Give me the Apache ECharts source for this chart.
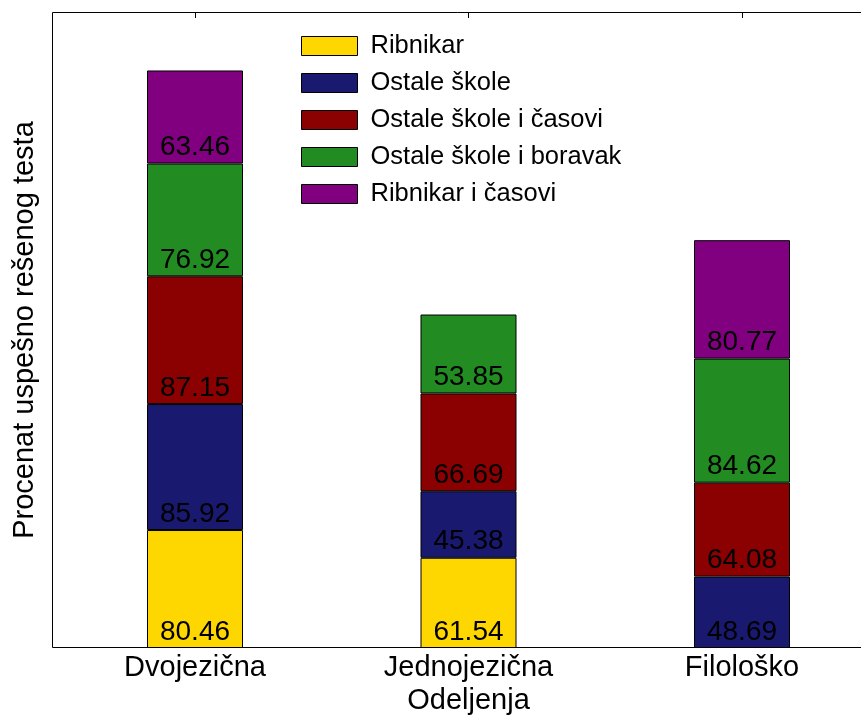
<!DOCTYPE html>
<html>
<head>
<meta charset="utf-8">
<script src="https://cdn.jsdelivr.net/npm/echarts@6/dist/echarts.min.js"></script>
<style>html,body{margin:0;padding:0;background:#fff}#c{width:861px;height:715px}</style>
</head>
<body>
<div id="c"></div>
<script>
const categories = ['Dvojezična', 'Jednojezična', 'Filološko'];
const seriesNames = ['Ribnikar', 'Ostale škole', 'Ostale škole i časovi', 'Ostale škole i boravak', 'Ribnikar i časovi'];
const ribnikar = [80.46, 61.54, null];
const ostaleSkole = [85.92, 45.38, 48.69];
const ostaleSkoleCasovi = [87.15, 66.69, 64.08];
const ostaleSkoleBoravak = [76.92, 53.85, 84.62];
const ribnikarCasovi = [63.46, null, 80.77];
const colors = ['#FFD700', '#191970', '#8B0000', '#228B22', '#800080'];
const values = [ribnikar, ostaleSkole, ostaleSkoleCasovi, ostaleSkoleBoravak, ribnikarCasovi];

const FONT = 'Liberation Sans, Arial, sans-serif';
const series = values.map((arr, si) => ({
  name: seriesNames[si],
  type: 'bar',
  stack: 'total',
  barWidth: 96,
  data: arr.map(v => v == null ? '-' : v),
  itemStyle: { color: colors[si], borderColor: '#000', borderWidth: 1 },
  label: {
    show: true,
    position: 'insideBottom',
    distance: 2,
    color: '#000',
    fontFamily: FONT,
    fontSize: 28,
    formatter: p => (typeof p.value === 'number') ? p.value.toFixed(2) : ''
  }
}));

const chart = echarts.init(document.getElementById('c'), null, { renderer: 'canvas' });
chart.setOption({
  animation: false,
  backgroundColor: '#fff',
  color: colors,
  grid: { left: 58.25, right: -17.75, top: 12, bottom: 67, containLabel: false, outerBoundsMode: 'none' },
  graphic: [{
    type: 'rect',
    shape: { x: 52.5, y: 12.5, width: 840, height: 635 },
    style: { fill: 'none', stroke: '#000', lineWidth: 1 },
    silent: true,
    z: 10
  }],
  legend: {
    orient: 'vertical',
    left: 296,
    top: 28,
    itemWidth: 56,
    itemHeight: 19,
    itemGap: 11,
    icon: 'rect',
    textStyle: { fontFamily: FONT, fontSize: 25.5, color: '#000', padding: [0, 0, 0, 8] },
    itemStyle: { borderColor: '#000', borderWidth: 1 },
    data: seriesNames
  },
  xAxis: [{
    type: 'category',
    data: categories,
    position: 'bottom',
    name: 'Odeljenja',
    nameLocation: 'middle',
    nameGap: 37,
    nameTextStyle: { fontFamily: FONT, fontSize: 29, color: '#000' },
    splitLine: { show: false },
    axisLine: { show: false },
    axisTick: { show: true, inside: true, length: 6, alignWithLabel: true, lineStyle: { color: '#000' } },
    axisLabel: { fontFamily: FONT, fontSize: 29, color: '#000', margin: 5 }
  }, {
    type: 'category',
    data: categories,
    position: 'top',
    splitLine: { show: false },
    axisLine: { show: false },
    axisTick: { show: true, inside: true, length: 6, alignWithLabel: true, lineStyle: { color: '#000' } },
    axisLabel: { show: false }
  }],
  yAxis: {
    type: 'value',
    min: 0,
    max: 433.8,
    name: 'Procenat uspešno rešenog testa',
    nameLocation: 'middle',
    nameGap: 19,
    nameTextStyle: { fontFamily: FONT, fontSize: 29, color: '#000' },
    splitLine: { show: false },
    axisLine: { show: false },
    axisTick: { show: false },
    axisLabel: { show: false }
  },
  series: series
});
</script>
</body>
</html>
